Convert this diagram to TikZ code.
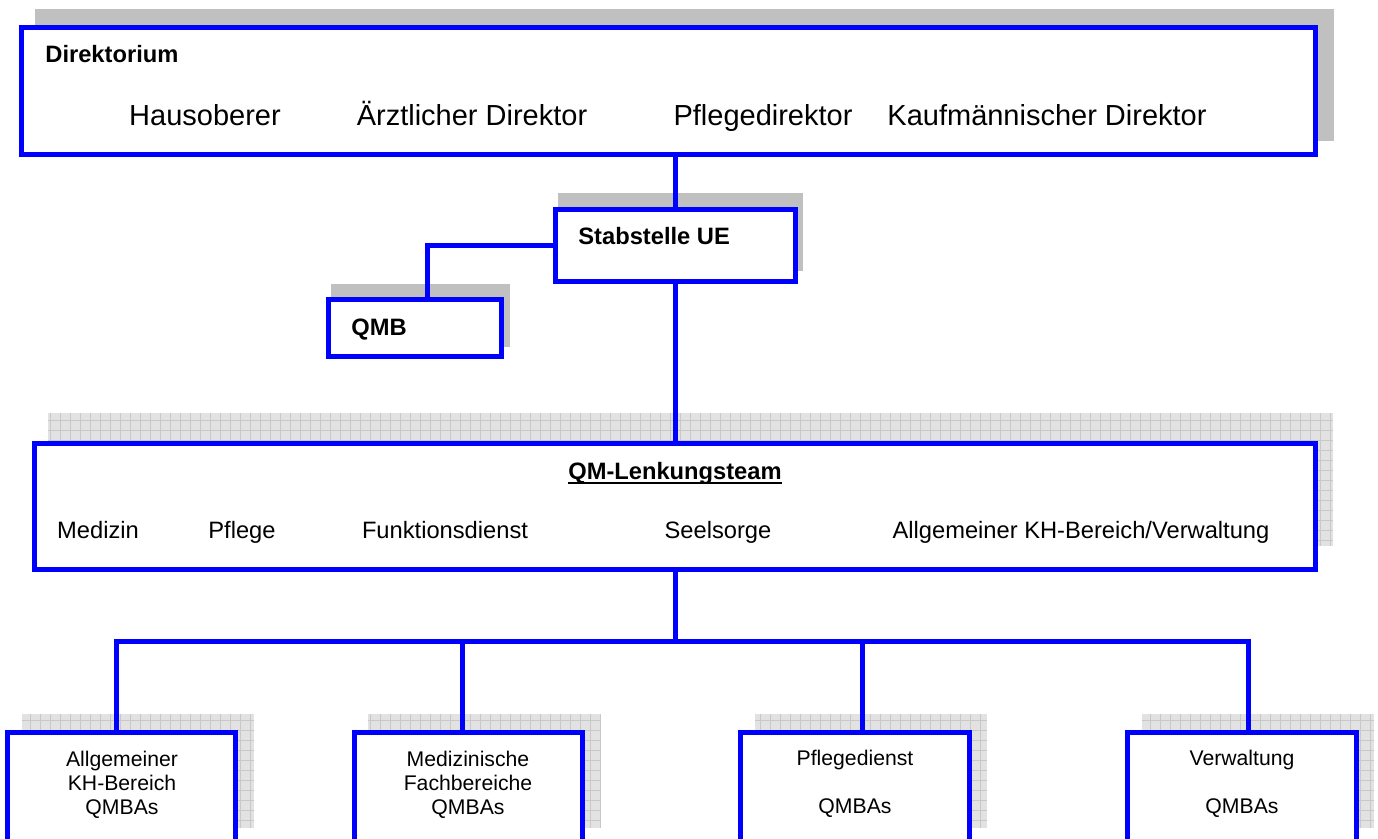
\documentclass[tikz,border=0pt]{standalone}
\usepackage{fontspec}
\setmainfont{Liberation Sans}
\definecolor{qblue}{HTML}{0000FF}
\definecolor{shadowgray}{HTML}{C0C0C0}
\definecolor{gridfillc}{HTML}{E2E2E2}
\definecolor{gridlinec}{HTML}{C8C8C8}
\newcommand{\gridshadow}[4]{%
  \fill[gridfillc] (#1,#2) rectangle (#3,#4);
  \begin{scope}
    \clip (#1,#2) rectangle (#3,#4);
    \draw[gridlinec, line width=0.4pt, step=5pt] (#1,#2) grid (#3,#4);
  \end{scope}}
\begin{document}
\begin{tikzpicture}[x=0.5pt,y=-0.5pt,
  box/.style={draw=qblue, line width=2.5pt, fill=white, rectangle, inner sep=0pt, outer sep=0pt},
  link/.style={draw=qblue, line width=2.5pt, line join=miter},
  big/.style={font=\fontsize{14.5pt}{17pt}\selectfont, inner sep=0pt, anchor=base},
  mid/.style={font=\fontsize{11.85pt}{14pt}\selectfont, inner sep=0pt, anchor=base},
  midb/.style={font=\fontsize{11.85pt}{14pt}\selectfont\bfseries, inner sep=0pt, anchor=base west},
  small/.style={font=\fontsize{10.6pt}{12pt}\selectfont, inner sep=0pt, anchor=north, align=center}]
\useasboundingbox (0,0) rectangle (1378,839);
\clip (0,0) rectangle (1378,839);

% shadows
\fill[shadowgray] (35,9) rectangle (1334,141);
\fill[shadowgray] (558,193) rectangle (803,271);
\fill[shadowgray] (331,284) rectangle (510,347);
\gridshadow{48}{413}{1333}{546}
\gridshadow{22}{714}{254}{828}
\gridshadow{368}{714}{601}{828}
\gridshadow{755}{714}{987}{828}
\gridshadow{1142}{714}{1374}{828}

% box geometry (coordinates only, drawn later)
\path (668.5,91) node[box, draw=none, fill=none, minimum width=647pt, minimum height=63.5pt] (dirG) {};
\path (675.5,245.5) node[box, draw=none, fill=none, minimum width=120pt, minimum height=36pt] (stabG) {};
\path (415,328) node[box, draw=none, fill=none, minimum width=86.5pt, minimum height=28.5pt] (qmbG) {};
\path (675,506.5) node[box, draw=none, fill=none, minimum width=640.5pt, minimum height=63pt] (lenkG) {};
\path (121.5,796.25) node[box, draw=none, fill=none, minimum width=114.25pt, minimum height=63.75pt] (b1G) {};
\path (468.5,796.25) node[box, draw=none, fill=none, minimum width=114.25pt, minimum height=63.75pt] (b2G) {};
\path (855,796.25) node[box, draw=none, fill=none, minimum width=114.75pt, minimum height=63.75pt] (b3G) {};
\path (1242,796.25) node[box, draw=none, fill=none, minimum width=114.75pt, minimum height=63.75pt] (b4G) {};

% connectors
\coordinate (busL) at (116,642);
\draw[link] (stabG.north |- dirG.south) -- (stabG.north);
\draw[link] (stabG.south) -- (stabG.south |- lenkG.north);
\draw[link] (stabG.west) -| ([xshift=6pt]qmbG.north);
\draw[link] (lenkG.south) -- (lenkG.south |- busL);
\draw[link] ([xshift=-2.75pt]b1G.north) -- (busL) -- ([xshift=3pt]b4G.north |- busL) -- ([xshift=3pt]b4G.north);
\draw[link] ([xshift=-3.25pt]b2G.north) -- ([xshift=-3.25pt]b2G.north |- busL);
\draw[link] ([xshift=3.5pt]b3G.north) -- ([xshift=3.5pt]b3G.north |- busL);

% boxes
\node[box, minimum width=647pt, minimum height=63.5pt] (dir) at (dirG) {};
\node[box, minimum width=120pt, minimum height=36pt] (stab) at (stabG) {};
\node[box, minimum width=86.5pt, minimum height=28.5pt] (qmb) at (qmbG) {};
\node[box, minimum width=640.5pt, minimum height=63pt] (lenk) at (lenkG) {};
\node[box, minimum width=114.25pt, minimum height=63.75pt] (b1) at (b1G) {};
\node[box, minimum width=114.25pt, minimum height=63.75pt] (b2) at (b2G) {};
\node[box, minimum width=114.75pt, minimum height=63.75pt] (b3) at (b3G) {};
\node[box, minimum width=114.75pt, minimum height=63.75pt] (b4) at (b4G) {};

% texts
\node[midb] (tdir) at (45,63) {Direktorium};
\node[big] (t1) at (205,126) {Hausoberer};
\node[big] (t2) at (472,126) {Ärztlicher Direktor};
\node[big] (t3) at (763,126) {Pflegedirektor};
\node[big] (t4) at (1047,126) {Kaufmännischer Direktor};

\node[midb] (tstab) at (578,245) {Stabstelle UE};
\node[midb] (tqmb) at (351,336) {QMB};

\node[mid, font=\fontsize{11.85pt}{14pt}\selectfont\bfseries] (tlenk) at (675,480) {QM-Lenkungsteam};
\draw[line width=1pt] ([yshift=-1.6pt]tlenk.base west) -- ([yshift=-1.6pt]tlenk.base east);
\node[mid] (m1) at (98,539) {Medizin};
\node[mid] (m2) at (242,539) {Pflege};
\node[mid] (m3) at (445,539) {Funktionsdienst};
\node[mid] (m4) at (718,539) {Seelsorge};
\node[mid] (m5) at (1081,539) {Allgemeiner KH-Bereich/Verwaltung};

\node[small] (tb1) at (122,750.6) {Allgemeiner\\KH-Bereich\\QMBAs};
\node[small] (tb2) at (468,750.6) {Medizinische\\Fachbereiche\\QMBAs};
\node[small] (tb3) at (855,749.6) {Pflegedienst\\[12pt]QMBAs};
\node[small] (tb4) at (1242,749.6) {Verwaltung\\[12pt]QMBAs};
\end{tikzpicture}
\end{document}
